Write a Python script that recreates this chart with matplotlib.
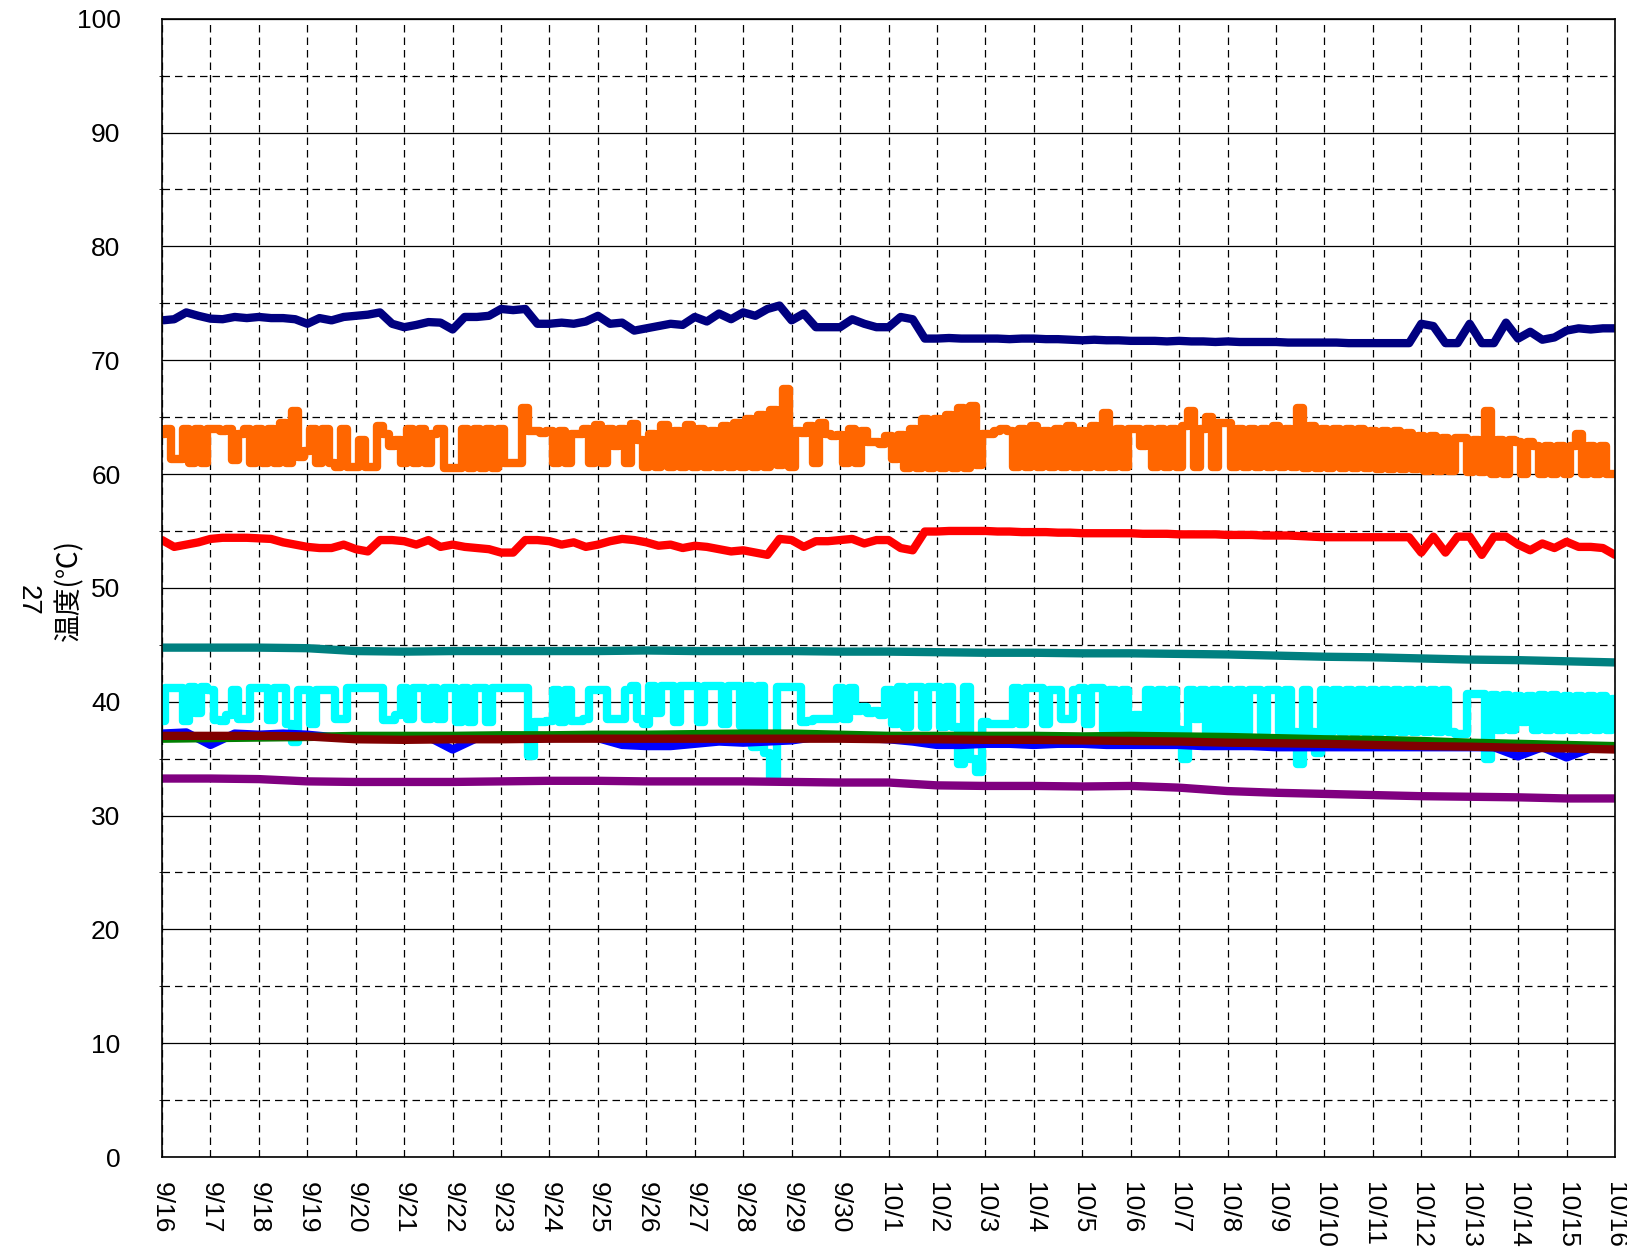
import numpy as np
import pandas as pd
import matplotlib
matplotlib.use("Agg")
import matplotlib.pyplot as plt

plt.rcParams["font.family"] = ["Liberation Sans", "Noto Sans CJK JP", "DejaVu Sans"]

start = "2023-09-16"
day_labels = ["9/16", "9/17", "9/18", "9/19", "9/20", "9/21", "9/22", "9/23",
              "9/24", "9/25", "9/26", "9/27", "9/28", "9/29", "9/30", "10/1",
              "10/2", "10/3", "10/4", "10/5", "10/6", "10/7", "10/8", "10/9",
              "10/10", "10/11", "10/12", "10/13", "10/14", "10/15", "10/16"]

# navy, every 6 h
navy = [73.5, 73.6, 74.2, 73.9, 73.65, 73.6, 73.8, 73.7, 73.8, 73.7, 73.7, 73.6,
        73.2, 73.7, 73.5, 73.8, 73.9, 74.0, 74.2, 73.2, 72.9, 73.1, 73.35, 73.3,
        72.7, 73.8, 73.8, 73.9, 74.5, 74.4, 74.5, 73.2, 73.2, 73.3, 73.2, 73.4,
        73.9, 73.2, 73.3, 72.6, 72.8, 73.0, 73.2, 73.1, 73.8, 73.4, 74.1, 73.6,
        74.2, 73.9, 74.5, 74.8, 73.5, 74.1, 72.9, 72.9, 72.9, 73.6, 73.2, 72.9,
        72.9, 73.8, 73.6, 71.9, 71.9, 71.95, 71.9, 71.9, 71.9, 71.9, 71.85, 71.9,
        71.9, 71.85, 71.85, 71.8, 71.75, 71.8, 71.75, 71.75, 71.7, 71.7, 71.7, 71.65,
        71.7, 71.65, 71.65, 71.6, 71.65, 71.6, 71.6, 71.6, 71.6, 71.55, 71.55, 71.55,
        71.55, 71.55, 71.5, 71.5, 71.5, 71.5, 71.5, 71.5, 73.2, 73.0, 71.5, 71.5,
        73.2, 71.5, 71.5, 73.3, 71.9, 72.5, 71.8, 72.0, 72.6, 72.8, 72.7, 72.8,
        72.8]

# orange, every 3 h
orange = [63.5, 64, 61.3, 61.3, 64, 61, 64, 61,
          64, 64, 63.8, 64, 61.2, 63.5, 64, 61,
          64, 61, 64, 61, 64.5, 61, 65.5, 61.5,
          62, 64, 61, 64, 61, 60.6, 64, 60.6,
          60.6, 63, 60.6, 60.6, 64.2, 63.5, 62.5, 63,
          61, 64, 61, 64, 61, 63.5, 64, 60.5,
          60.5, 60.5, 64, 60.5, 64, 60.5, 64, 60.5,
          64, 61, 61, 61, 65.8, 63.8, 63.8, 63.6,
          63.8, 61, 63.8, 61, 63.5, 63.5, 64, 61,
          64.3, 61, 64, 62.5, 64, 61, 64.4, 63,
          60.6, 63.5, 60.6, 64.3, 60.6, 63.8, 60.6, 64.3,
          60.6, 64, 60.6, 63.8, 60.6, 64.2, 60.6, 64.5,
          60.6, 64.8, 60.6, 65.2, 60.6, 65.6, 60.8, 67.5,
          60.6, 63.8, 63.6, 64.2, 61, 64.5, 63.5, 63.3,
          63.4, 61, 64, 61, 63.8, 62.8, 62.8, 62.6,
          63.3, 61.3, 63.4, 60.5, 64, 60.5, 64.8, 60.5,
          64.8, 60.5, 65.2, 60.5, 65.8, 60.5, 66, 60.8,
          63.5, 63.5, 63.8, 64, 63.8, 60.6, 64, 60.6,
          64.2, 60.6, 63.8, 60.6, 64, 60.6, 64.2, 60.6,
          63.8, 60.6, 64.2, 60.6, 65.4, 60.6, 64, 60.6,
          64, 64, 62.5, 64, 60.6, 64, 60.6, 64,
          60.6, 64.2, 65.5, 60.6, 64, 65, 60.6, 64.5,
          64.5, 60.6, 64, 60.6, 64, 60.6, 64, 60.6,
          64.2, 60.6, 64, 60.6, 65.8, 60.5, 64.2, 60.5,
          64, 60.5, 64, 60.5, 64, 60.5, 64, 60.5,
          63.8, 60.4, 63.8, 60.4, 63.8, 60.4, 63.6, 60.4,
          63.3, 60.3, 63.3, 60.3, 63.2, 60.3, 63.2, 63.2,
          60.2, 63, 60.2, 65.5, 60, 63, 60, 63,
          62.8, 60, 62.8, 62.5, 60, 62.5, 60, 62.5,
          60, 62.5, 63.5, 60, 62.5, 60, 62.5, 60,
          60]

# red, every 6 h
red = [54.2, 53.6, 53.8, 54.0, 54.3, 54.4, 54.4, 54.4, 54.35, 54.3, 54.0, 53.8,
       53.6, 53.5, 53.5, 53.8, 53.4, 53.2, 54.2, 54.2, 54.1, 53.8, 54.2, 53.6,
       53.8, 53.6, 53.5, 53.4, 53.1, 53.1, 54.2, 54.2, 54.1, 53.8, 54.0, 53.6,
       53.8, 54.1, 54.3, 54.2, 54.0, 53.7, 53.8, 53.5, 53.7, 53.6, 53.4, 53.2,
       53.3, 53.1, 52.9, 54.3, 54.2, 53.6, 54.1, 54.1, 54.2, 54.3, 53.9, 54.2,
       54.2, 53.5, 53.3, 54.95, 54.95, 55.0, 55.0, 55.0, 55.0, 54.95, 54.95, 54.9,
       54.9, 54.9, 54.85, 54.85, 54.8, 54.8, 54.8, 54.8, 54.8, 54.75, 54.75, 54.75,
       54.7, 54.7, 54.7, 54.7, 54.65, 54.65, 54.65, 54.6, 54.6, 54.6, 54.55, 54.5,
       54.45, 54.45, 54.45, 54.45, 54.45, 54.45, 54.45, 54.45, 53.1, 54.5, 53.1, 54.5,
       54.5, 52.9, 54.5, 54.5, 53.8, 53.3, 53.9, 53.5, 54.05, 53.6, 53.6, 53.5,
       52.9]

# teal, daily
teal = [44.75, 44.75, 44.75, 44.7, 44.45, 44.4, 44.45, 44.45, 44.45, 44.45, 44.5,
        44.45, 44.45, 44.45, 44.4, 44.4, 44.35, 44.3, 44.3, 44.25, 44.25, 44.2,
        44.15, 44.05, 43.95, 43.9, 43.8, 43.7, 43.65, 43.55, 43.45]

# cyan, every 3 h
cyan = [38.3, 41.2, 41.2, 41.2, 38.3, 41.3, 39, 41.3,
        41, 38.4, 38.3, 38.8, 41, 38.5, 38.5, 41.2,
        41.2, 41.2, 38.4, 41.2, 41.2, 38, 36.5, 41,
        41, 38, 41, 41, 41, 38.5, 38.5, 41.2,
        41.2, 41.2, 41.2, 41.2, 41.2, 38.4, 38.4, 38.8,
        41.2, 38.5, 41.2, 41.2, 38.5, 41.2, 38.5, 41.2,
        41.2, 38.2, 41.2, 38.2, 41.2, 41.2, 38.2, 41.2,
        41.2, 41.2, 41.2, 41.2, 41.2, 35.2, 38.2, 38.2,
        38.3, 41, 38.2, 41, 38.3, 38.3, 38.5, 41,
        41, 41, 38.5, 38.5, 38.5, 41, 41.4, 38.5,
        38, 41.4, 39, 41.4, 41.4, 38.2, 41.4, 41.4,
        41.4, 38.2, 41.4, 41.4, 41.4, 38, 41.4, 41.4,
        37.9, 41.4, 36, 41.4, 35.5, 33.2, 41.3, 41.3,
        41.3, 41.3, 38.2, 38.3, 38.5, 38.5, 38.5, 38.5,
        41.2, 38.5, 41.2, 39.2, 39.5, 39, 39.2, 38.8,
        41, 38, 41.3, 37.8, 41.3, 41.3, 37.8, 41.3,
        41.3, 37.8, 41.3, 37.8, 34.5, 41.3, 35, 33.8,
        38.2, 38, 38, 38, 38, 41.2, 38, 41.2,
        41.2, 41.2, 38, 41, 41, 38.5, 38.5, 41,
        41.2, 38, 41.2, 41.2, 37.5, 41, 37.5, 41,
        37.5, 38.8, 37.5, 41, 37.5, 41, 37.5, 41,
        37.5, 35, 41, 38.5, 41, 37.3, 41, 37.3,
        41, 37.3, 41, 37.3, 41, 41, 37.3, 41,
        41, 37.3, 41, 37.3, 34.5, 41, 37.3, 35.5,
        41, 37.3, 41, 37.3, 41, 37.3, 41, 37.3,
        41, 37.3, 41, 37.3, 41, 37.3, 41, 37.3,
        41, 37.3, 41, 37.3, 41, 37.3, 37.2, 37.2,
        40.7, 40.7, 40.7, 35, 40.6, 37.5, 40.6, 37.5,
        40.5, 38.2, 40.5, 37.5, 40.6, 37.5, 40.6, 37.5,
        40.5, 37.5, 40.5, 37.5, 40.5, 37.5, 40.5, 37.5,
        40.2]

# blue, every 12 h
blue = [37.2, 37.3, 36.2, 37.2, 37.1, 37.2, 37.1, 36.9, 36.8, 36.8, 36.8, 36.9,
        35.8, 36.8, 36.9, 36.8, 36.8, 36.9, 36.8, 36.2, 36.1, 36.1, 36.3, 36.5,
        36.4, 36.5, 36.6, 36.9, 36.9, 36.8, 36.7, 36.5, 36.2, 36.2, 36.3, 36.3,
        36.2, 36.3, 36.3, 36.2, 36.2, 36.2, 36.2, 36.1, 36.1, 36.1, 36.0, 36.0,
        36.0, 36.0, 36.0, 36.0, 36.0, 36.0, 36.0, 36.0, 35.2, 36.0, 35.1, 35.9,
        35.9]

# green, daily
green = [36.75, 36.8, 36.85, 36.9, 37.0, 37.0, 37.0, 37.05, 37.05, 37.1, 37.1,
         37.15, 37.2, 37.2, 37.1, 37.0, 37.0, 37.0, 37.0, 36.95, 37.0, 36.95,
         36.9, 36.8, 36.7, 36.65, 36.55, 36.4, 36.3, 36.2, 36.1]

# maroon, daily
maroon = [37.0, 37.0, 37.0, 36.95, 36.7, 36.65, 36.7, 36.7, 36.75, 36.75, 36.75,
          36.75, 36.75, 36.75, 36.75, 36.7, 36.7, 36.65, 36.65, 36.6, 36.55, 36.5,
          36.4, 36.35, 36.3, 36.2, 36.1, 36.05, 35.95, 35.9, 35.8]

# purple, daily
purple = [33.25, 33.25, 33.2, 33.0, 32.95, 32.95, 32.95, 33.0, 33.05, 33.05, 33.0,
          33.0, 33.0, 32.95, 32.9, 32.9, 32.65, 32.6, 32.6, 32.55, 32.6, 32.45,
          32.15, 32.0, 31.9, 31.8, 31.7, 31.65, 31.6, 31.5, 31.5]

# (values, sample interval, colour, drawstyle)
series = [
    (navy, "6h", "#000080", "default"),
    (orange, "3h", "#FF6600", "steps-mid"),
    (red, "6h", "#FF0000", "default"),
    (teal, "1D", "#008080", "default"),
    (cyan, "3h", "#00FFFF", "steps-mid"),
    (blue, "12h", "#0000FF", "default"),
    (green, "1D", "#008000", "default"),
    (maroon, "1D", "#800000", "default"),
    (purple, "1D", "#800080", "default"),
]

fig = plt.figure(figsize=(16.27, 12.56), dpi=100)
ax = fig.add_axes([0.0996, 0.0788, 0.893, 0.9063])

for vals, freq, color, ds in series:
    t = pd.date_range(start, periods=len(vals), freq=freq)
    ax.plot(t, vals, color=color, lw=6, drawstyle=ds,
            solid_capstyle="round", solid_joinstyle="round")

days = pd.date_range(start, periods=len(day_labels), freq="1D")
ax.set_xlim(days[0], days[-1])
ax.set_ylim(0, 100)
ax.set_xticks(days)
ax.set_xticklabels(day_labels, rotation=-90, va="top", ha="center", fontsize=19)
ax.set_yticks(np.arange(0, 101, 10))
ax.set_yticks(np.arange(5, 100, 10), minor=True)
ax.tick_params(axis="both", length=0, pad=18, labelsize=19)
ax.tick_params(axis="y", pad=30)

ax.grid(axis="y", which="major", color="black", lw=0.9)
ax.grid(axis="y", which="minor", color="black", lw=0.9, ls=(0, (6, 4)))
ax.grid(axis="x", which="major", color="black", lw=0.9, ls=(0, (6, 4)))
ax.set_axisbelow(True)
for s in ax.spines.values():
    s.set_color("black")
    s.set_linewidth(1.2)

fig.text(0.0424, 0.53, "温度(℃)", rotation=90, ha="center", va="center",
         fontsize=20, family=["Noto Sans CJK JP", "DejaVu Sans"])
fig.text(0.0172, 0.522, "27", rotation=-90, ha="center", va="center", fontsize=20)

fig.savefig("out.png", dpi=100)
